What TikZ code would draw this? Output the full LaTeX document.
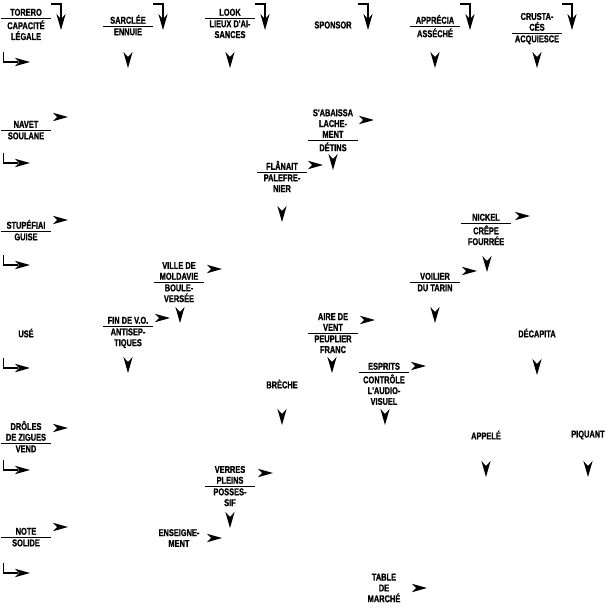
\documentclass[tikz,border=0pt]{standalone}
\usepackage{fontspec}
\newfontfamily\cluefont{Liberation Sans Bold}[FakeStretch=0.75, FakeBold=1]
\usetikzlibrary{positioning}

\begin{document}
\begin{tikzpicture}[
    x=1pt, y=-1pt, % pixel grid, y going down
    clue/.style={font=\cluefont\fontsize{9.9}{10.8}\selectfont, align=center, inner sep=0pt},
    cluerule/.style={line width=0.6pt},
    cornerline/.style={line width=1.6pt},
    % arrow heads without shaft
    rtip/.pic={\fill (0,0) -- (-15,-4.2) -- (-11,0) -- (-15,4.2) -- cycle;},
    dtip/.pic={\fill (0,0) -- (-4.6,-16) -- (0,-11) -- (4.6,-16) -- cycle;}
]
    \useasboundingbox (0,0) rectangle (613,613);

    % clue with a rule between two definitions
    \def\clue#1#2#3#4#5{%
        \draw[cluerule] (#2-25,#3) -- (#2+25,#3);
        \node[clue, anchor=south] (#1a) at (#2,#3-2) {#4};
        \node[clue, anchor=north] (#1b) at (#2,#3+2.2) {#5};
    }

    % --- Top row ---
    \clue{torero}{26}{18}{TORERO}{CAPACITÉ\\LÉGALE}
    \clue{sarclee}{128}{26}{SARCLÉE}{ENNUIE}
    \clue{look}{230}{18}{LOOK}{LIEUX D'AI-\\SANCES}
    \node[clue] (sponsor) at (333,25) {SPONSOR};
    \clue{apprecia}{435}{26}{APPRÉCIA}{ASSÉCHÉ}
    \clue{crustaces}{537}{33}{CRUSTA-\\CÉS}{ACQUIESCE}

    % --- Left column ---
    \clue{navet}{26}{130}{NAVET}{SOULANE}
    \clue{stupefiai}{26}{231}{STUPÉFIAI}{GUISE}
    \node[clue] (use) at (26,333) {USÉ};
    \clue{droles}{26}{443}{DRÔLES\\DE ZIGUES}{VEND}
    \clue{note}{26}{537}{NOTE}{SOLIDE}

    % --- Inner clues ---
    \clue{abaissa}{333}{140}{S'ABAISSA\\LACHE-\\MENT}{DÉTINS}
    \clue{flanait}{282}{172}{FLÂNAIT}{PALEFRE-\\NIER}
    \clue{nickel}{486}{223}{NICKEL}{CRÊPE\\FOURRÉE}
    \clue{ville}{179}{282}{VILLE DE\\MOLDAVIE}{BOULE-\\VERSÉE}
    \clue{voilier}{435}{282}{VOILIER}{DU TARIN}
    \clue{finvo}{128}{326}{FIN DE V.O.}{ANTISEP-\\TIQUES}
    \clue{aire}{333}{333}{AIRE DE\\VENT}{PEUPLIER\\FRANC}
    \node[clue] (decapita) at (537,333) {DÉCAPITA};
    \clue{esprits}{384}{372}{ESPRITS}{CONTRÔLE\\L'AUDIO-\\VISUEL}
    \node[clue] (breche) at (282,384) {BRÈCHE};
    \node[clue] (appele) at (486,435) {APPELÉ};
    \node[clue] (piquant) at (588,435) {PIQUANT};
    \clue{verres}{230}{486}{VERRES\\PLEINS}{POSSES-\\SIF}
    \node[clue] (enseigne) at (179,538) {ENSEIGNE-\\MENT};
    \node[clue] (table) at (384,588) {TABLE\\DE\\MARCHÉ};

    % --- Corner arrows along the top edge ---
    \foreach \x in {51,153,255,358,460,562} {
        \draw[cornerline] (\x,4) -- (\x+10,4) -- (\x+10,20);
        \pic at (\x+10,30) {dtip};
    }

    % --- L arrows along the left edge ---
    \foreach \y in {52,153,255,358,460,563} {
        \draw[cornerline] (3.5,\y) -- (3.5,\y+10) -- (18,\y+10);
        \pic at (30,\y+10) {rtip};
    }

    % --- Right arrows ---
    \foreach \x/\y in {68/117, 374/120, 323/165, 68/220, 530/216, 222/269,
                       477/271, 170/318, 375/320, 426/366, 68/428, 273/473,
                       68/527, 222/538, 427/588}
        \pic at (\x,\y) {rtip};

    % --- Down arrows ---
    \foreach \x/\y in {128/68, 230/68, 435/68, 537/68, 333/170, 282/222,
                       487/272, 180/323, 435/323, 128/373, 332/373, 537/375,
                       385/425, 282/425, 486/477, 588/477, 230/528}
        \pic at (\x,\y) {dtip};

\end{tikzpicture}
\end{document}
